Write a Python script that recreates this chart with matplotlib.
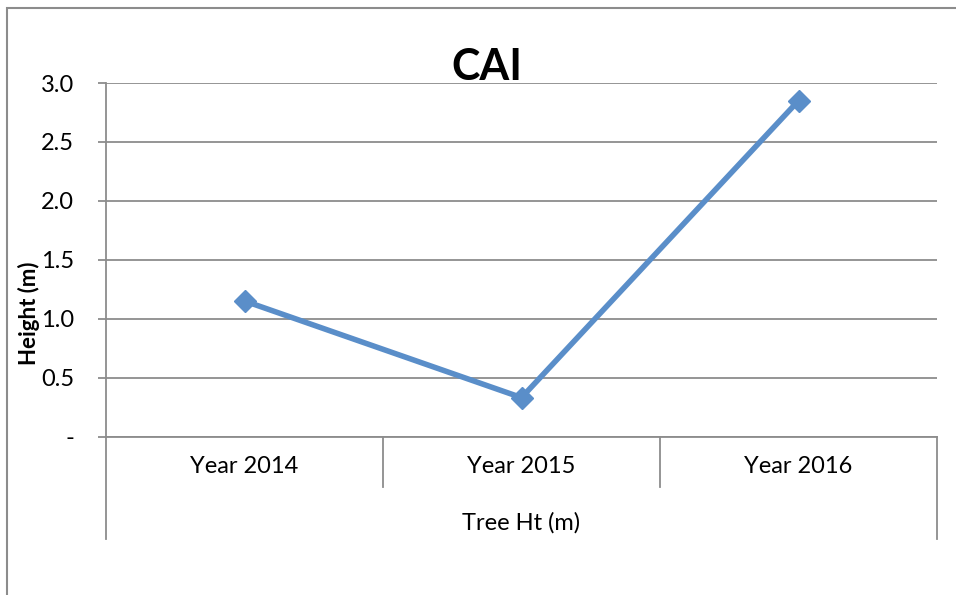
import matplotlib.pyplot as plt
from matplotlib.patches import Rectangle

categories = ['Year 2014', 'Year 2015', 'Year 2016']
cai_values = [1.15, 0.33, 2.85]
y_ticks = [0.0, 0.5, 1.0, 1.5, 2.0, 2.5, 3.0]
y_tick_labels = ['-', '0.5', '1.0', '1.5', '2.0', '2.5', '3.0']

plt.rcParams['font.family'] = ['Lato', 'DejaVu Sans']
grid_col = '#8c8c8c'
line_col = '#5a8ec9'

fig = plt.figure(figsize=(9.56, 5.95), dpi=100)
ax = fig.add_axes([106 / 956, 1 - 436.5 / 595, (937 - 106) / 956, (436.5 - 83) / 595])

x = list(range(len(categories)))
ax.plot(x, cai_values, color=line_col, lw=4, marker='D', ms=11,
        markerfacecolor=line_col, markeredgecolor=line_col, zorder=3)

ax.set_xlim(-0.5, len(categories) - 0.5)
ax.set_ylim(0, 3.0)
ax.set_yticks(y_ticks)
ax.set_yticklabels(y_tick_labels, fontsize=17)
ax.tick_params(axis='y', length=6, width=1.3, color=grid_col, pad=17)
ax.yaxis.grid(True, color=grid_col, lw=1.3)
ax.set_axisbelow(True)

ax.set_xticks(x)
ax.set_xticklabels(categories, fontsize=17)
ax.tick_params(axis='x', length=0, pad=14)

for side in ['top', 'right']:
    ax.spines[side].set_visible(False)
for side in ['left', 'bottom']:
    ax.spines[side].set_color(grid_col)
    ax.spines[side].set_linewidth(1.3)

# category separators below axis (two-level axis look)
tr = ax.get_xaxis_transform()
inner_depth = -(487 - 436.5) / 353.5
outer_depth = -(539 - 436.5) / 353.5
for xb in [0.5, 1.5]:
    ax.plot([xb, xb], [0, inner_depth], transform=tr, color=grid_col, lw=1.3, clip_on=False)
for xb in [-0.5, len(categories) - 0.5]:
    ax.plot([xb, xb], [0, outer_depth], transform=tr, color=grid_col, lw=1.3, clip_on=False)

ax.text(1, -(523 - 436.5) / 353.5, 'Tree Ht (m)', transform=tr, ha='center', va='center', fontsize=17)

ax.set_ylabel('Height (m)', fontsize=16, fontweight='bold')
ax.yaxis.set_label_coords(-(106 - 40) / 831, 0.35)

fig.text(487 / 956, 1 - 67 / 595, 'CAI', ha='center', va='center', fontsize=31, fontweight='bold')

# chart frame
fig.patches.append(Rectangle((6.5 / 956, -0.1), 1.2, 1 - 8 / 595 + 0.1, transform=fig.transFigure,
                             fill=False, edgecolor=grid_col, lw=1.5))

fig.savefig('out.png', dpi=100)
